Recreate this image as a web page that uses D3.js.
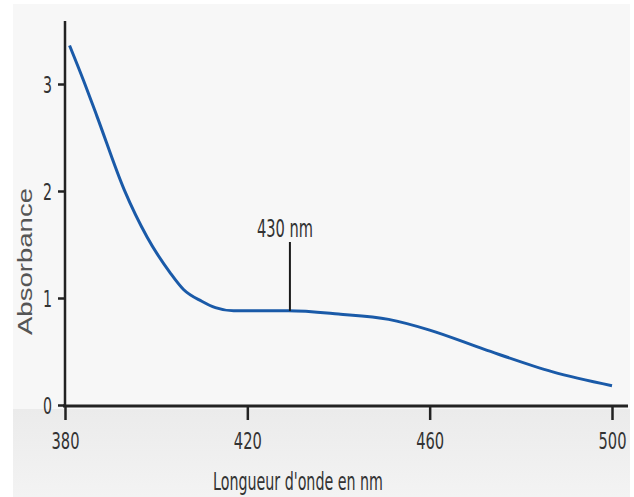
<!DOCTYPE html>
<html>
<head>
<meta charset="utf-8">
<script src="https://cdn.jsdelivr.net/npm/d3@7"></script>
<style>
  body { margin: 0; background: #fff; }
  .cond { font-family: "Liberation Sans Narrow", "DejaVu Sans Condensed", "Roboto", sans-serif; fill: #333; }
</style>
</head>
<body>
<div class="chart"></div>
<script>
// spectrum (wavelength in nm, absorbance)
const wavelengths = [381, 384, 387, 393, 398, 403, 406, 410, 413, 417, 429, 440, 451, 460, 472, 487, 500];
const absorbance = [3.36, 3.04, 2.70, 2.01, 1.57, 1.24, 1.08, 0.97, 0.91, 0.88, 0.88, 0.85, 0.80, 0.70, 0.52, 0.31, 0.18];
const xTicks = [380, 420, 460, 500];
const yTicks = [0, 1, 2, 3];
const peak = 430;

const W = 634, H = 497;
const margin = { top: 21, right: 22, bottom: 92, left: 65 };

const svg = d3.select(".chart").append("svg")
    .attr("width", W)
    .attr("height", H);

// background panel with lighter plot area and darker band under the axis
const defs = svg.append("defs");
const grad = defs.append("linearGradient").attr("id", "bottomBand").attr("x1", 0).attr("y1", 0).attr("x2", 0).attr("y2", 1);
grad.append("stop").attr("offset", "0%").attr("stop-color", "#ebebeb");
grad.append("stop").attr("offset", "100%").attr("stop-color", "#f3f3f3");

svg.append("rect").attr("x", 13).attr("y", 4).attr("width", 617).attr("height", 493).attr("fill", "#f7f7f7");
svg.append("rect").attr("x", 13).attr("y", 409).attr("width", 617).attr("height", 88).attr("fill", "url(#bottomBand)");

const x = d3.scaleLinear().domain([380, 500]).range([margin.left, 612]);
const y = d3.scaleLinear().domain([0, 3]).range([405, 84]);

const data = wavelengths.map((w, i) => ({ w: w, a: absorbance[i] }));

// y axis
const yAxis = svg.append("g").attr("transform", "translate(" + margin.left + ",0)")
    .call(d3.axisLeft(y).tickValues(yTicks).tickSize(7).tickPadding(6).tickFormat(d3.format("d")));
yAxis.select(".domain").remove();
yAxis.selectAll(".tick line").attr("stroke", "#222").attr("stroke-width", 2.5);
yAxis.selectAll(".tick text").attr("class", "cond").style("font-size", "23px").attr("dy", "0.36em")
    .attr("textLength", 9).attr("lengthAdjust", "spacingAndGlyphs");
svg.append("line").attr("x1", margin.left).attr("x2", margin.left).attr("y1", margin.top).attr("y2", 407)
    .attr("stroke", "#222").attr("stroke-width", 2.5);

// x axis
const xAxis = svg.append("g").attr("transform", "translate(0,405)")
    .call(d3.axisBottom(x).tickValues(xTicks).tickSize(15).tickPadding(13).tickFormat(d3.format("d")));
xAxis.select(".domain").remove();
xAxis.selectAll(".tick line").attr("stroke", "#222").attr("stroke-width", 2.5);
xAxis.selectAll(".tick text").attr("class", "cond").style("font-size", "23px")
    .attr("textLength", 28).attr("lengthAdjust", "spacingAndGlyphs");
svg.append("line").attr("x1", margin.left - 2).attr("x2", 628).attr("y1", 406).attr("y2", 406)
    .attr("stroke", "#222").attr("stroke-width", 3);

// curve
const line = d3.line().x(d => x(d.w)).y(d => y(d.a)).curve(d3.curveMonotoneX);
svg.append("path").datum(data)
    .attr("d", line)
    .attr("fill", "none")
    .attr("stroke", "#1a5aa8")
    .attr("stroke-width", 3);

// 430 nm marker
const px = x(peak) - 3;
svg.append("line").attr("x1", px).attr("x2", px).attr("y1", 242).attr("y2", y(0.88))
    .attr("stroke", "#1a1a1a").attr("stroke-width", 2);
svg.append("text").attr("class", "cond")
    .attr("x", 257).attr("y", 237)
    .attr("textLength", 56).attr("lengthAdjust", "spacingAndGlyphs")
    .style("font-size", "24px")
    .text(peak + " nm");

// axis titles
svg.append("text").attr("class", "cond")
    .attr("x", 213).attr("y", 490)
    .attr("textLength", 170).attr("lengthAdjust", "spacingAndGlyphs")
    .style("font-size", "24px")
    .text("Longueur d'onde en nm");

svg.append("text")
    .attr("transform", "translate(32,335) rotate(-90)")
    .attr("textLength", 147).attr("lengthAdjust", "spacingAndGlyphs")
    .style("font-family", "Liberation Sans, Arial, sans-serif")
    .style("font-size", "20px")
    .style("fill", "#555")
    .text("Absorbance");
</script>
</body>
</html>
